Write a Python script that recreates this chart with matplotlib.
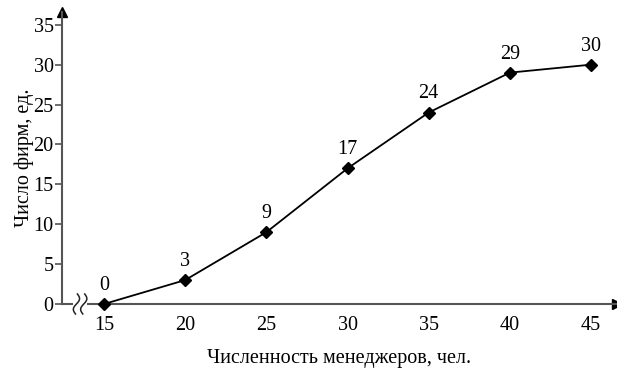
import matplotlib.pyplot as plt
import numpy as np

plt.rcParams['font.family'] = ['Liberation Serif', 'DejaVu Serif']

managers = [15, 20, 25, 30, 35, 40, 45]
firms = [0, 3, 9, 17, 24, 29, 30]
yticks = [0, 5, 10, 15, 20, 25, 30, 35]

axis_color = '#555555'
fs = 14.5

fig = plt.figure(figsize=(6.17, 3.73), dpi=100)
ax = fig.add_axes([62 / 617, 69 / 373, 1 - 62 / 617, 292 / 373])

ax.plot(managers, firms, color='black', lw=1.3, marker='D', ms=6, clip_on=False, zorder=3)
for x, y in zip(managers, firms):
    ax.annotate(str(y), (x, y), xytext=(0, 6.5), textcoords='offset points',
                ha='center', va='bottom', fontsize=fs)

ax.set_xlim(12.41, 46.6)
ax.set_ylim(0, 36.6)
ax.set_xticks(managers)
ax.set_yticks(yticks)
ax.tick_params(axis='x', length=0, pad=9, labelsize=fs)
ax.tick_params(axis='y', length=5, width=1.2, color=axis_color, pad=1, labelsize=fs)

for s in ['top', 'right']:
    ax.spines[s].set_visible(False)
for s in ['left', 'bottom']:
    ax.spines[s].set_color(axis_color)
    ax.spines[s].set_linewidth(1.5)

# arrow heads on axes
ax.plot(1, 0, '>', color='black', ms=7, transform=ax.transAxes, clip_on=False)
ax.plot(0, 1, '^', color='black', ms=7, transform=ax.transAxes, clip_on=False)

# axis break mark
ax.fill_between([13.1, 13.95], -0.8, 0.8, color='white', zorder=4, lw=0, clip_on=False)
t = np.linspace(-1, 1, 50)
for dx in (13.3, 13.75):
    ax.plot(dx + 0.06 * t + 0.16 * np.sin(t * np.pi), t * 1.25, color='#222222', lw=1.1,
            clip_on=False, zorder=5)

ax.set_xlabel('Численность менеджеров, чел.', fontsize=fs, labelpad=10)
ax.set_ylabel('Число фирм, ед.', fontsize=fs, labelpad=0)

fig.savefig('out.png', dpi=100)
